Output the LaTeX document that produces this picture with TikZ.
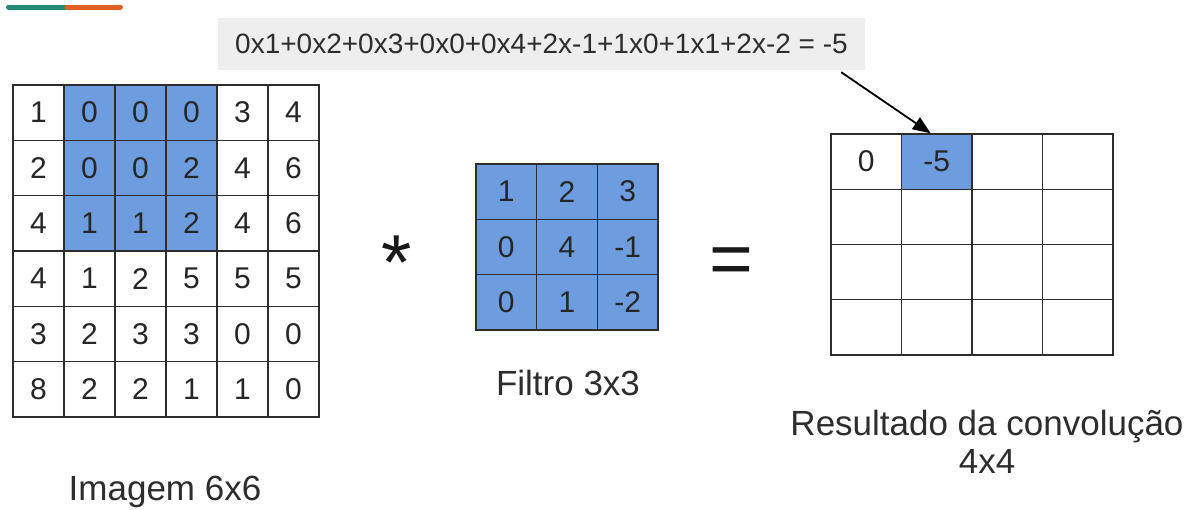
\documentclass[tikz,border=0pt]{standalone}
\usepackage{fontspec}
\setmainfont{Liberation Sans}
\usetikzlibrary{arrows.meta,calc}
\definecolor{cellblue}{RGB}{109,157,222}
\definecolor{gridline}{RGB}{45,45,45}
\definecolor{boxgray}{RGB}{238,238,238}
\definecolor{labeltext}{RGB}{45,45,45}
\definecolor{barteal}{RGB}{34,138,118}
\definecolor{barorange}{RGB}{226,96,38}
\begin{document}
\begin{tikzpicture}[x=1pt,y=-1pt,
  cellbase/.style={draw=gridline,line width=1.3pt,inner sep=0pt,
    font=\fontsize{30}{30}\selectfont,text=black!85},
  imgcell/.style={cellbase,minimum width=51pt,minimum height=55.33pt},
  filtcell/.style={cellbase,minimum width=60.67pt,minimum height=55.33pt,fill=cellblue},
  rescell/.style={cellbase,minimum width=70.5pt,minimum height=55.25pt},
  caption/.style={font=\fontsize{35}{35}\selectfont,text=labeltext,inner sep=0pt,anchor=base},
  opsym/.style={inner sep=0pt,anchor=base,text=black!90}
]
\useasboundingbox (0,0) rectangle (1194,509);

% top accent bar
\draw[barteal,line width=5pt,line cap=round] (8.5,7) -- (67,7);
\draw[barorange,line width=5pt,line cap=round] (67,7) -- (120.5,7);

% image 6x6
\foreach \row [count=\r from 0] in {{1,0,0,0,3,4},{2,0,0,2,4,6},{4,1,1,2,4,6},{4,1,2,5,5,5},{3,2,3,3,0,0},{8,2,2,1,1,0}}{
  \foreach \v [count=\c from 0] in \row {
    \pgfmathtruncatemacro\isblue{and(\r<3,and(\c>0,\c<4))}
    \ifnum\isblue=1 \def\cf{cellblue}\else\def\cf{white}\fi
    \node[imgcell,fill=\cf] (img-\r-\c) at ({13+51*(\c+0.5)},{85+55.33*(\r+0.5)}) {\v};
  }
}

% filter 3x3
\foreach \row [count=\r from 0] in {{1,2,3},{0,4,-1},{0,1,-2}}{
  \foreach \v [count=\c from 0] in \row {
    \node[filtcell] (filt-\r-\c) at ({476+60.67*(\c+0.5)},{164+55.33*(\r+0.5)}) {\v};
  }
}

% result 4x4
\foreach \r in {0,...,3}{
  \foreach \c in {0,...,3}{
    \node[rescell] (res-\r-\c) at ({831+70.5*(\c+0.5)},{134+55.25*(\r+0.5)}) {};
  }
}
\node[rescell] (res-0-0) at ({831+70.5*0.5},{134+55.25*0.5}) {0};
\node[rescell,fill=cellblue] (res-0-1) at ({831+70.5*1.5},{134+55.25*0.5}) {-5};

% operators
\node[opsym,font=\fontsize{78}{78}\selectfont] (star) at (397,289) {*};
\node[opsym,font=\fontsize{75}{75}\selectfont] (eq) at (731.5,284) {=};

% formula box
\node[fill=boxgray,minimum width=647pt,minimum height=52pt,inner sep=0pt,
  font=\fontsize{28}{28}\selectfont,text=labeltext] (formula) at (541.5,44)
  {0x1+0x2+0x3+0x0+0x4+2x-1+1x0+1x1+2x-2 = -5};
\coordinate (arrstart) at ($(formula.south east)+(-24,2)$);
\coordinate (arrend) at ($(res-0-1.north)+(-6,0)$);
\draw[line width=1.8pt,-{Triangle[length=18pt,width=14pt]}] (arrstart) -- (arrend);

% captions
\node[caption] (capimg) at (165,500) {Imagem 6x6};
\node[caption] (capfilt) at (568,395) {Filtro 3x3};
\node[caption] (capres1) at (987,435) {Resultado da convolução};
\node[caption] (capres2) at (987,473) {4x4};
\end{tikzpicture}
\end{document}
